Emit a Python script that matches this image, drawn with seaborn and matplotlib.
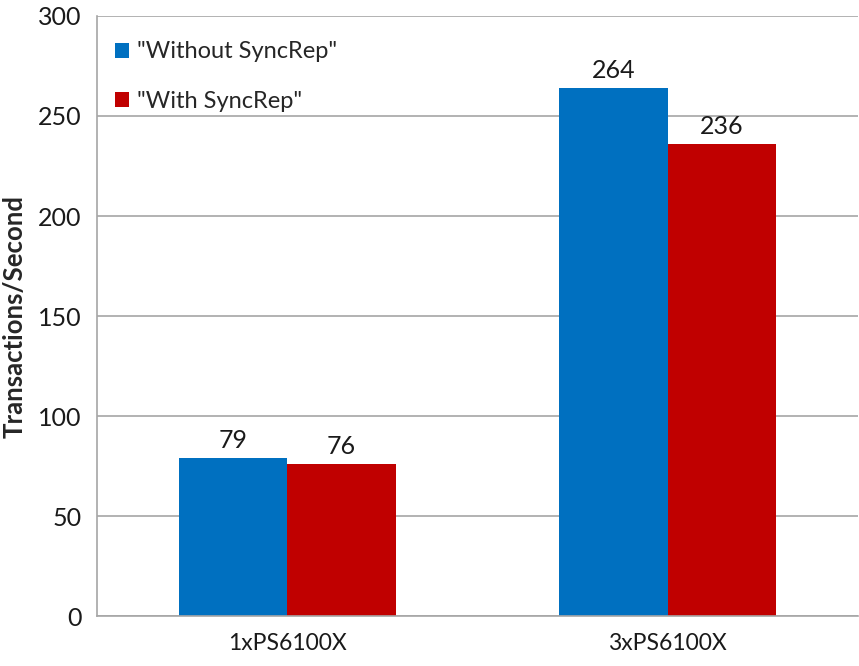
import pandas as pd
import matplotlib.pyplot as plt
import seaborn as sns

# Datos del gráfico
categories = ["1xPS6100X", "3xPS6100X"]
series_names = ['"Without SyncRep"', '"With SyncRep"']
without_syncrep = [79, 264]
with_syncrep = [76, 236]
colors = ["#0070C0", "#C00000"]

df = pd.DataFrame({
    "config": categories * 2,
    "serie": [series_names[0]] * 2 + [series_names[1]] * 2,
    "tps": without_syncrep + with_syncrep,
})

sns.set_style("white")
plt.rcParams["font.family"] = ["Lato", "DejaVu Sans"]

fig = plt.figure(figsize=(8.59, 6.66), dpi=100)
ax = fig.add_axes([0.113, 0.075, 0.886, 0.901])

sns.barplot(data=df, x="config", y="tps", hue="serie", palette=colors,
            width=0.57, saturation=1, linewidth=0, ax=ax, legend=True)

for cont in ax.containers:
    ax.bar_label(cont, padding=4, fontsize=18, color="#1a1a1a")

ax.set_ylim(0, 300)
ax.set_yticks(range(0, 301, 50))
ax.set_xlim(-0.5, 1.5)
ax.yaxis.grid(True, color="#a6a6a6", linewidth=1.2)
ax.set_axisbelow(True)

for s in ["top", "right"]:
    ax.spines[s].set_visible(False)
for s in ["left", "bottom"]:
    ax.spines[s].set_color("#a6a6a6")
    ax.spines[s].set_linewidth(1.2)

ax.set_xticks([0, 1])
ax.set_xticklabels(categories, fontsize=16.5)
ax.set_xticks([-0.5, 0.5, 1.5], minor=True)
ax.tick_params(axis="x", which="major", length=0, pad=12)
ax.tick_params(axis="x", which="minor", length=6, color="#a6a6a6", direction="out")
ax.tick_params(axis="y", length=6, color="#a6a6a6", direction="out", labelsize=18, pad=5)
ax.tick_params(axis="both", colors="#a6a6a6", labelcolor="#1a1a1a")

ax.set_xlabel("")
ax.set_ylabel("Transactions/Second", fontsize=18.5, fontweight="bold", labelpad=8)

leg = ax.legend(loc="upper left", frameon=False, fontsize=17, handlelength=0.6,
                handleheight=0.6, handletextpad=0.3, labelspacing=1.2,
                bbox_to_anchor=(-0.004, 0.993))

plt.savefig("out.png", dpi=100)
